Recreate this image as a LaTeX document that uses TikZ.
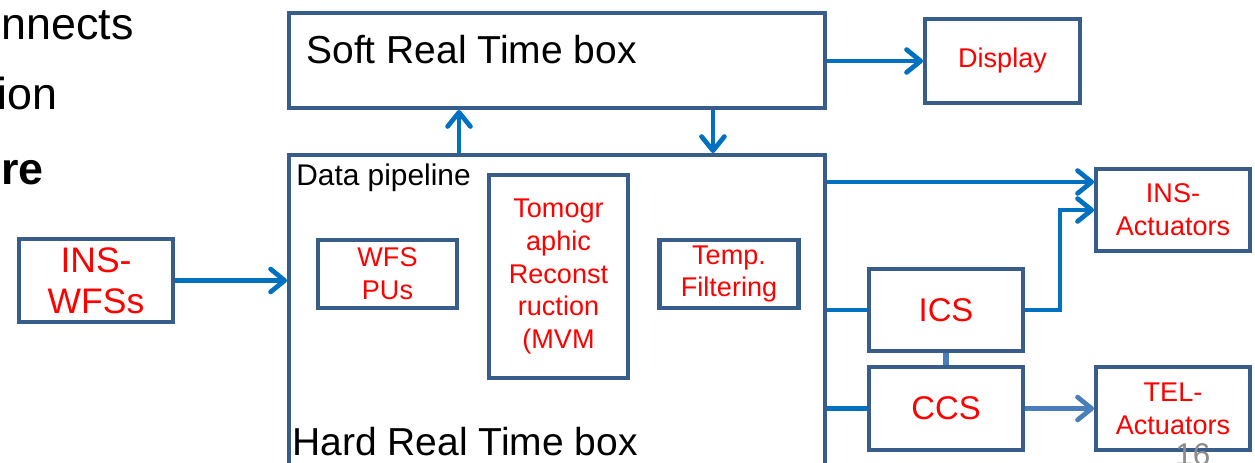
\documentclass[tikz,border=0pt]{standalone}
\usepackage{fontspec}
\setmainfont{Liberation Sans}
\usetikzlibrary{arrows.meta,positioning}
\definecolor{boxblue}{RGB}{56,93,138}
\definecolor{arrblue}{RGB}{0,112,192}
\definecolor{lightblue}{RGB}{74,126,187}
\definecolor{numgray}{RGB}{140,140,140}

\begin{document}
\begin{tikzpicture}[x=0.02cm,y=-0.02cm,
  blk/.style={draw=boxblue,fill=white,line width=2.3pt,inner sep=0pt,
              align=center,text=red,font=\fontsize{15.4}{18.7}\selectfont},
  unit/.style={blk,minimum width=3.08cm,minimum height=1.64cm},
  stage/.style={blk,minimum width=2.78cm,minimum height=1.36cm},
  rtbox/.style={draw=boxblue,line width=2.3pt,minimum width=10.72cm,inner sep=0pt},
  bigtxt/.style={inner sep=0pt,anchor=base west,font=\fontsize{22.2}{26}\selectfont},
  sidetxt/.style={inner sep=0pt,anchor=base east,font=\fontsize{25.5}{30}\selectfont},
  arr/.style={-{Straight Barb[length=8pt,width=13pt,round]},line width=2.7pt,arrblue},
  lnk/.style={line width=2.7pt,arrblue}]
  \path[use as bounding box,clip] (0,0) rectangle (1255,463);

  % text of the slide, cut by the picture
  \node[sidetxt] (txta) at (134,39)  {nnects};
  \node[sidetxt] (txtb) at (58,109)  {ion};
  \node[sidetxt,font=\fontsize{25.5}{30}\selectfont\bfseries] (txtc) at (44,184) {re};

  % real time boxes
  \node[rtbox,minimum height=1.9cm] (soft) at (557,60.5) {};
  \node[rtbox,minimum height=7cm]   (hard) at (557,330)  {};
  \node[bigtxt] (softtxt) at (306,63)  {Soft Real Time box};
  \node[bigtxt] (hardtxt) at (292,455) {Hard Real Time box};
  \node[bigtxt,font=\fontsize{17}{20}\selectfont] (pipe) at (296,185) {Data pipeline};

  % data pipeline
  \node[stage] (wfs)  at (387.5,274) {WFS\\PUs};
  \node[stage,minimum height=4.06cm] (tomo) at (558.5,276.5) {Tomogr\\aphic\\Reconst\\ruction\\(MVM};
  \node[stage] (temp) at (729,274) {Temp.\\Filtering};

  % outside units
  \node[unit,minimum width=3.08cm,minimum height=1.66cm,
        font=\fontsize{20.2}{23.2}\selectfont] (wfss) at (96,280.5) {INS-\\WFSs};
  \node[unit,minimum width=3.1cm,minimum height=1.68cm] (disp) at (1002.5,61) {Display};
  \node[unit] (insact) at (1173,210) {INS-\\Actuators};
  \node[unit,font=\fontsize{18.7}{22}\selectfont] (ics) at (946,310) {ICS};
  \node[unit,minimum height=1.66cm,font=\fontsize{18.7}{22}\selectfont,
        below=0.24cm of ics] (ccs) {CCS};
  \node[unit,minimum height=1.66cm,right=1.38cm of ccs] (tel) {TEL-\\Actuators};

  \node[inner sep=0pt,anchor=base west,text=numgray,
        font=\fontsize{17.9}{21}\selectfont] (pgno) at (1175,465) {16};

  \coordinate (ina) at ([yshift=0.56cm]insact.west);

  \draw[arr] (wfss.east) -- (hard.west|-wfss.east);
  \draw[arr] (wfs.east|-hard.north) -- (wfs.east|-soft.south);
  \draw[arr] ([xshift=3.12cm]soft.south) -- ([xshift=3.12cm]hard.north);
  \draw[arr] (soft.east|-disp.west) -- (disp.west);
  \draw[arr] (hard.east|-ina) -- (ina);
  \draw[lnk] (hard.east|-ics.west) -- (ics.west);
  \draw[lnk] (hard.east|-ccs.west) -- (ccs.west);
  \draw[arr] (ics.east) -- ++(35,0) |- (insact.west);
  \draw[lnk,lightblue,line width=3.4pt] (ics.south) -- (ccs.north);
  \draw[arr,lightblue] (ccs.east) -- (tel.west);
\end{tikzpicture}
\end{document}
